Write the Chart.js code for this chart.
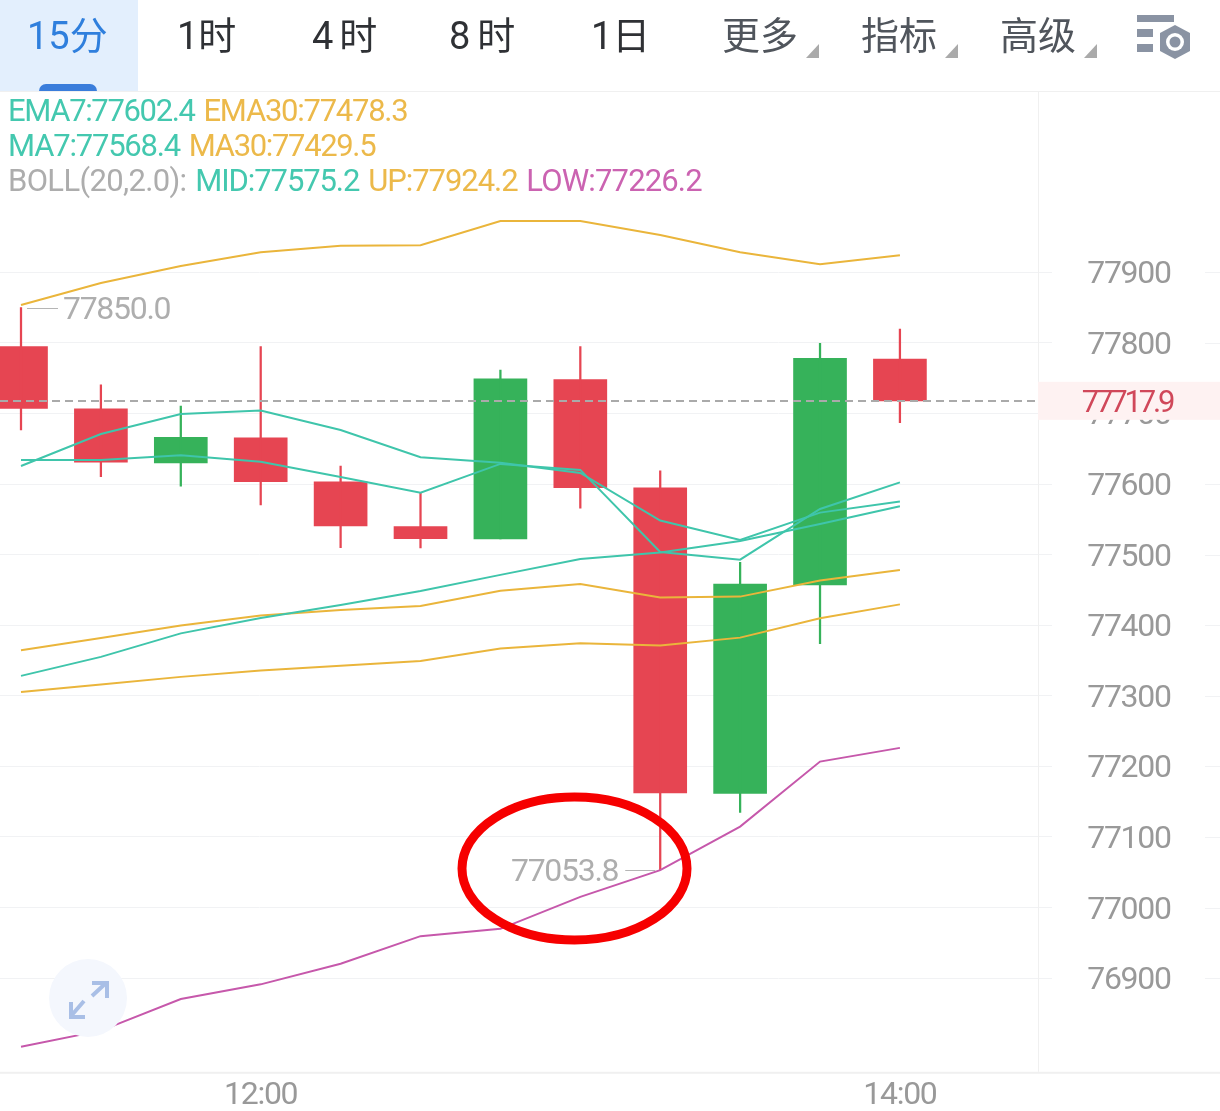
<!DOCTYPE html>
<html>
<head>
<meta charset="utf-8">
<script src="https://cdn.jsdelivr.net/npm/chart.js@4"></script>
<style>
  html, body { margin: 0; padding: 0; background: #fff; }
  body { position: relative; width: 1220px; height: 1111px; overflow: hidden; font-family: Roboto, sans-serif; }
  canvas { position: absolute; left: 0; top: 0; }
  .header { position: absolute; left: 0; top: 0; width: 1220px; height: 91px; border-bottom: 1px solid #f0f0f0; }
  .tab-on { position: absolute; left: 0; top: 0; width: 138px; height: 91px; background: #e3effd; }
  .marker { position: absolute; left: 39px; top: 84px; width: 58px; height: 7px; background: #3a7ddb; border-radius: 8px 8px 0 0; }
  .tab { position: absolute; top: 12px; font: 400 38px/48px Roboto, "Noto Sans CJK SC", sans-serif; color: #2f3135; white-space: nowrap; }
  .tab.on { color: #2f7fdd; }
  .tab.menu { color: #50555c; }
  .values { position: absolute; left: 8px; font: 400 31px/36px Roboto, sans-serif; word-spacing: 2.5px; letter-spacing: -1.35px; white-space: nowrap; }
  .teal { color: #44c8af; } .gold { color: #ecb94a; } .grey { color: #adadad; } .pink { color: #cb63b1; }
  svg { position: absolute; left: 0; top: 0; pointer-events: none; }
</style>
</head>
<body>
<canvas id="myChart" width="1220" height="1123"></canvas>

<div class="header">
  <div class="tab-on"></div>
  <div class="marker"></div>
  <div class="tab on" style="left:27px">15分</div>
  <div class="tab" style="left:177px">1时</div>
  <div class="tab" style="left:312px;letter-spacing:6px">4时</div>
  <div class="tab" style="left:449px;letter-spacing:7px">8时</div>
  <div class="tab" style="left:591px">1日</div>
  <div class="tab menu" style="left:722px">更多</div>
  <div class="tab menu" style="left:861px">指标</div>
  <div class="tab menu" style="left:1000px">高级</div>
</div>

<div class="values" style="top:93px"><span class="teal">EMA7:77602.4</span> <span class="gold" style="letter-spacing:-1.25px">EMA30:77478.3</span></div>
<div class="values" style="top:128px"><span class="teal" style="letter-spacing:-1.2px">MA7:77568.4</span> <span class="gold">MA30:77429.5</span></div>
<div class="values" style="top:163px"><span class="grey" style="letter-spacing:-.65px">BOLL(20,2.0):</span> <span class="teal" style="letter-spacing:-1.1px">MID:77575.2</span> <span class="gold" style="letter-spacing:-1.05px">UP:77924.2</span> <span class="pink" style="letter-spacing:-.85px">LOW:77226.2</span></div>

<svg width="1220" height="1111">
  <polygon points="819,44 819,58 806,58" fill="#aaaaaa"/>
  <polygon points="958,44 958,58 945,58" fill="#aaaaaa"/>
  <polygon points="1097,44 1097,58 1084,58" fill="#aaaaaa"/>
  <!-- settings icon -->
  <rect x="1137" y="15" width="37" height="7" fill="#8a93a3"/>
  <rect x="1137" y="29" width="16" height="8" fill="#8a93a3"/>
  <rect x="1137" y="44" width="16" height="8" fill="#8a93a3"/>
  <polygon points="1175,25 1190,33 1190,51 1175,59 1160,51 1160,33" fill="#8a93a3"/>
  <circle cx="1175" cy="42" r="9" fill="#fff"/>
  <circle cx="1175" cy="42" r="5.5" fill="#8a93a3"/>
  <!-- expand button -->
  <circle cx="88" cy="998" r="39" fill="#f4f7fd"/>
  <g fill="none" stroke="#a9bfe6" stroke-width="4">
    <path d="M92 996 L106 983 M92 983 L107 983 L107 998"/>
    <path d="M84 1001 L71 1016 M71 1002 L71 1017 L85 1017"/>
  </g>
  <!-- hand drawn red ring -->
  <ellipse cx="574.5" cy="868.5" rx="112.5" ry="71.5" fill="none" stroke="#f60000" stroke-width="9"/>
</svg>

<script>
const categories = ['11:15', '11:30', '11:45', '12:00', '12:15', '12:30', '12:45', '13:00', '13:15', '13:30', '13:45', '14:00'];
const timeTicks = ['12:00', '14:00'];
const priceTicks = [77900, 77800, 77700, 77600, 77500, 77400, 77300, 77200, 77100, 77000, 76900];

const opens = [77794.9, 77706.4, 77629.9, 77665.3, 77603, 77539.6, 77522.2, 77747.9, 77594.5, 77161.8, 77457.1, 77777.2];
const closes = [77707.1, 77630.9, 77666.3, 77603.4, 77540.7, 77522.7, 77748.9, 77594.9, 77162.5, 77458.1, 77778.2, 77717.9];
const highs = [77850, 77740.4, 77710.6, 77794.6, 77625.6, 77587.8, 77761.6, 77794.6, 77618.6, 77489.2, 77799.4, 77819.7];
const lows = [77676.6, 77610.5, 77596.9, 77570.4, 77509.9, 77509.5, 77522.2, 77565.7, 77053.8, 77134.6, 77374, 77687];

const ema7 = [77634.1, 77634.1, 77640.8, 77631.7, 77610.1, 77587.8, 77628.5, 77620, 77503.8, 77492.9, 77564.7, 77602.4];
const mid = [77625.6, 77670.9, 77699.3, 77704, 77676.6, 77637.9, 77630.3, 77615.7, 77548.2, 77520.8, 77559.5, 77575.2];
const ma7 = [77328.2, 77355.1, 77388.4, 77410.3, 77428.7, 77448.6, 77471.3, 77493.9, 77503.1, 77519.4, 77543.5, 77568.4];
const ema30 = [77364.4, 77382, 77399.6, 77413.6, 77421.7, 77427.3, 77448.7, 77458.5, 77439.1, 77440.5, 77463.2, 77478.3];
const ma30 = [77305.5, 77316.1, 77326.8, 77335.8, 77342.4, 77349.4, 77366.9, 77374.5, 77371.1, 77382.4, 77409.9, 77429.5];
const bollUp = [77853.7, 77884.8, 77908.9, 77928.3, 77937.7, 77938.2, 77972.7, 77972.7, 77952.8, 77928.3, 77911.3, 77924.2];
const bollLow = [76802.7, 76825.6, 76870.4, 76891.2, 76920.3, 76959.5, 76969.8, 77015.2, 77053, 77114.7, 77206.8, 77226.2];

const RED = '#e64552';
const GREEN = '#36b25a';
const TEAL = '#3fc5ab';
const GOLD = '#eab53b';
const PINK = '#c658ab';
const GRID = '#f1f2f4';
const TICK_TEXT = '#999999';
const TEXT_FONT = '400 32px Roboto, sans-serif';

const candleColors = opens.map((o, i) => (closes[i] < o ? RED : GREEN));
const points = (values) => values.map((v, i) => ({ x: i, y: v }));

function lineSet(label, values, color) {
  return {
    type: 'line',
    label: label,
    data: points(values),
    borderColor: color,
    borderWidth: 2,
    pointRadius: 0,
    tension: 0,
    order: 1,
  };
}

function barSet(label, a, b, width) {
  return {
    type: 'bar',
    label: label,
    data: a.map((v, i) => ({ x: i, y: [v, b[i]] })),
    backgroundColor: candleColors,
    barThickness: width,
    grouped: false,
    order: 2,
  };
}

// panel frame, last price tag, high and low labels
const overlay = {
  id: 'overlay',
  beforeDraw(chart) {
    chart.ctx.letterSpacing = '-1.3px';
    // price labels sit 3px under their grid line
    const scale = chart.scales.y;
    const drawLabels = scale.drawLabels;
    scale.drawLabels = function (area) {
      this.ctx.save();
      this.ctx.translate(0, 3);
      drawLabels.call(this, area);
      this.ctx.restore();
    };
  },
  afterDatasetsDraw(chart) {
    const { ctx, chartArea, scales: { x, y } } = chart;
    const last = closes[closes.length - 1];
    const lastY = Math.round(y.getPixelForValue(last));

    ctx.save();
    ctx.strokeStyle = '#aaaaaa';
    ctx.lineWidth = 2;
    ctx.setLineDash([8, 5]);
    ctx.beginPath();
    ctx.moveTo(chartArea.left, lastY);
    ctx.lineTo(chartArea.right, lastY);
    ctx.stroke();
    ctx.setLineDash([]);

    // high and low of the visible window
    const hi = highs.indexOf(Math.max(...highs));
    const lo = lows.indexOf(Math.min(...lows));
    ctx.font = TEXT_FONT;
    ctx.fillStyle = '#aeaeae';
    ctx.textBaseline = 'middle';
    ctx.strokeStyle = '#b5b5b5';
    ctx.lineWidth = 1;

    const hiX = x.getPixelForValue(hi);
    const hiY = y.getPixelForValue(highs[hi]);
    ctx.beginPath();
    ctx.moveTo(hiX + 6, Math.round(hiY) + 0.5);
    ctx.lineTo(hiX + 37, Math.round(hiY) + 0.5);
    ctx.stroke();
    ctx.textAlign = 'left';
    ctx.fillText(highs[hi].toFixed(1), hiX + 42, hiY + 3);

    const loX = x.getPixelForValue(lo);
    const loY = y.getPixelForValue(lows[lo]);
    ctx.beginPath();
    ctx.moveTo(loX - 35, Math.round(loY) + 0.5);
    ctx.lineTo(loX - 5, Math.round(loY) + 0.5);
    ctx.stroke();
    ctx.textAlign = 'right';
    ctx.fillText(lows[lo].toFixed(1), loX - 42, loY + 3);
    ctx.restore();
  },
  afterDraw(chart) {
    const { ctx, chartArea, width, scales: { y } } = chart;
    const last = closes[closes.length - 1];
    const lastY = y.getPixelForValue(last);

    ctx.save();
    ctx.fillStyle = GRID;
    priceTicks.forEach((t) => {
      ctx.fillRect(1205, Math.round(y.getPixelForValue(t)), 15, 1);
    });
    ctx.fillStyle = '#f0f0f0';
    ctx.fillRect(chartArea.right, chartArea.top, 1, chartArea.bottom - chartArea.top);
    ctx.fillRect(0, chartArea.bottom, width, 2);

    ctx.fillStyle = '#fef2f2';
    ctx.fillRect(chartArea.right, lastY - 19, width - chartArea.right, 38);
    ctx.font = '400 31px Roboto, sans-serif';
    ctx.letterSpacing = '-3.2px';
    ctx.fillStyle = '#d0485a';
    ctx.textAlign = 'center';
    ctx.textBaseline = 'middle';
    ctx.fillText(last.toFixed(1), 1127, lastY + 3);
    ctx.restore();
  },
};

new Chart(document.getElementById('myChart'), {
  data: {
    datasets: [
      barSet('wick', lows, highs, 1.6),
      barSet('body', opens, closes, 53),
      lineSet('EMA7', ema7, TEAL),
      lineSet('MID', mid, TEAL),
      lineSet('MA7', ma7, TEAL),
      lineSet('EMA30', ema30, GOLD),
      lineSet('MA30', ma30, GOLD),
      lineSet('UP', bollUp, GOLD),
      lineSet('LOW', bollLow, PINK),
    ],
  },
  options: {
    responsive: false,
    animation: false,
    layout: { padding: { top: 92, left: 0, right: 0, bottom: 0 } },
    plugins: {
      legend: { display: false },
      tooltip: { enabled: false },
    },
    scales: {
      x: {
        type: 'linear',
        min: -0.2628,
        max: 12.728,
        offset: false,
        grid: { display: false, drawTicks: false },
        border: { display: false },
        afterFit(scale) { scale.height = 38; },
        afterBuildTicks(scale) {
          scale.ticks = timeTicks.map((t) => ({ value: categories.indexOf(t) }));
        },
        ticks: {
          autoSkip: false,
          maxRotation: 0,
          padding: 5,
          color: TICK_TEXT,
          font: { family: 'Roboto', size: 32, weight: '400' },
          callback: (v) => categories[v],
        },
      },
      y: {
        type: 'linear',
        position: 'right',
        min: 76767.3,
        max: 78155.4,
        border: { display: false },
        grid: { color: GRID, lineWidth: 1, tickLength: 14 },
        afterFit(scale) { scale.width = 182; },
        afterBuildTicks(scale) {
          scale.ticks = priceTicks.map((t) => ({ value: t }));
        },
        ticks: {
          autoSkip: false,
          crossAlign: 'center',
          padding: 32,
          color: TICK_TEXT,
          font: { family: 'Roboto', size: 32, weight: '400' },
          callback: (v) => String(v),
        },
      },
    },
  },
  plugins: [overlay],
});
</script>
</body>
</html>
